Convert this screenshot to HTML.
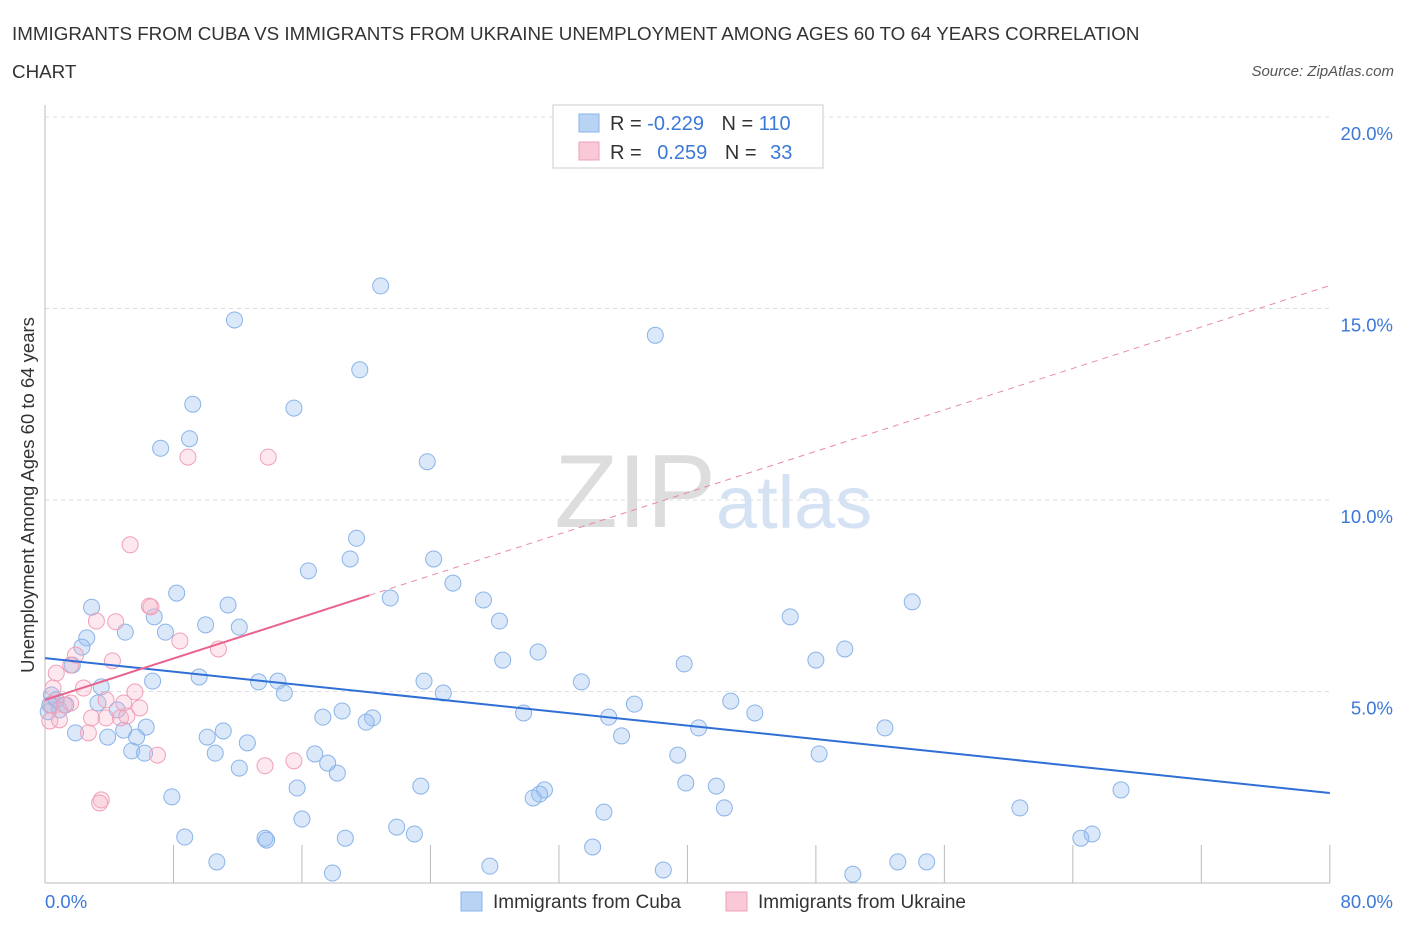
<!DOCTYPE html>
<html><head><meta charset="utf-8"><style>
body{margin:0;background:#fff;font-family:"Liberation Sans",sans-serif;}
svg text{font-family:"Liberation Sans",sans-serif;}
</style></head><body>
<svg id="chart" width="1406" height="930" xmlns="http://www.w3.org/2000/svg">
<text x="12" y="40" font-size="18.8" fill="#333">IMMIGRANTS FROM CUBA VS IMMIGRANTS FROM UKRAINE UNEMPLOYMENT AMONG AGES 60 TO 64 YEARS CORRELATION</text>
<text x="12" y="78" font-size="18.8" fill="#333">CHART</text>
<text x="1394" y="76" font-size="15" fill="#555" font-style="italic" text-anchor="end">Source: ZipAtlas.com</text>
<text x="716" y="527" font-size="104" fill="#ddd" text-anchor="end" font-family="Liberation Serif">ZIP</text>
<text x="716" y="528" font-size="74" fill="#d4e2f4">atlas</text>
<g id="grid"></g>
<g id="axes"></g>
<g id="pts"></g>
<g id="trend"></g>
<text transform="translate(34,495) rotate(-90)" font-size="18.5" fill="#333" text-anchor="middle">Unemployment Among Ages 60 to 64 years</text>
<text x="45" y="908" font-size="18.5" fill="#3b78d8">0.0%</text>
<text x="1393" y="908" font-size="18.5" fill="#3b78d8" text-anchor="end">80.0%</text>
<g>
<rect x="553" y="105" width="270" height="63" fill="#fff" stroke="#ccc"/>
<rect x="579" y="114" width="20" height="18" fill="#b9d3f5" stroke="#8ab4e8"/>
<rect x="579" y="142" width="20" height="18" fill="#f9c9d7" stroke="#f0a0b8"/>
<text x="610" y="130" font-size="20" fill="#333">R = <tspan fill="#3b78d8">-0.229</tspan>  <tspan dx="12">N = </tspan><tspan fill="#3b78d8">110</tspan></text>
<text x="610" y="159" font-size="20" fill="#333">R = <tspan fill="#3b78d8" dx="10">0.259</tspan>  <tspan dx="12">N = </tspan><tspan fill="#3b78d8" dx="8">33</tspan></text>
</g>
<g>
<rect x="461" y="892" width="21" height="19" fill="#b9d3f5" stroke="#8ab4e8"/>
<text x="493" y="908" font-size="19" fill="#333">Immigrants from Cuba</text>
<rect x="726" y="892" width="21" height="19" fill="#f9c9d7" stroke="#f0a0b8"/>
<text x="758" y="908" font-size="19" fill="#333">Immigrants from Ukraine</text>
</g>
</svg>
<script>
const cubaX=[20.9,11.8,38.0,19.6,9.2,15.5,7.2,9.0,23.8,19.4,19.0,24.2,16.4,25.4,8.2,21.5,2.9,11.4,27.3,54.0,6.8,28.3,10.0,12.1,5.0,7.5,2.6,2.3,46.4,49.8,30.7,28.5,1.7,48.0,39.8,9.6,6.7,13.3,14.5,23.6,33.4,3.5,14.9,24.8,0.4,0.7,1.3,0.9,3.3,4.5,36.7,42.7,44.2,29.8,18.5,17.3,35.1,20.4,20.0,6.3,4.9,11.1,40.7,52.3,1.9,3.9,5.7,10.1,12.6,35.9,5.4,6.2,10.6,16.8,39.4,48.2,17.6,12.1,18.2,39.9,41.8,23.4,15.7,31.1,30.8,30.4,7.9,67.0,42.3,34.8,60.7,16.0,21.9,23.0,65.2,64.5,8.7,13.7,13.8,18.7,34.1,10.7,27.7,53.1,54.9,38.5,17.9,50.3,0.3,0.2];
const cubaY=[15.59,14.7,14.3,13.4,12.5,12.4,11.35,11.6,11.0,9.0,8.46,8.46,8.15,7.83,7.57,7.44,7.2,7.26,7.39,7.34,6.95,6.84,6.74,6.68,6.55,6.55,6.4,6.16,6.95,6.11,6.03,5.82,5.69,5.82,5.72,5.38,5.27,5.25,5.27,5.27,5.25,5.12,4.96,4.96,4.91,4.78,4.65,4.52,4.7,4.52,4.67,4.75,4.44,4.44,4.49,4.33,4.33,4.31,4.2,4.07,3.99,3.97,4.05,4.05,3.92,3.81,3.81,3.81,3.66,3.84,3.45,3.39,3.39,3.37,3.34,3.37,3.13,3.0,2.87,2.61,2.53,2.53,2.48,2.43,2.32,2.22,2.25,2.43,1.96,1.85,1.96,1.67,1.46,1.28,1.28,1.17,1.2,1.17,1.12,1.17,0.94,0.55,0.44,0.55,0.55,0.34,0.26,0.23,4.65,4.47];
const ukrX=[8.9,13.9,5.3,6.5,6.6,4.4,3.2,8.4,10.8,1.9,4.2,1.6,0.7,2.4,0.5,5.6,3.8,4.9,5.9,0.4,1.2,1.6,2.9,3.8,4.7,5.1,0.3,0.9,2.7,7.0,13.7,15.5,3.5,3.4];
const ukrY=[11.12,11.12,8.83,7.23,7.21,6.82,6.84,6.32,6.11,5.95,5.8,5.69,5.48,5.09,5.09,4.99,4.78,4.7,4.57,4.65,4.65,4.7,4.31,4.31,4.31,4.36,4.23,4.26,3.92,3.34,3.06,3.19,2.17,2.09];
const cubaTrend=[5.87,2.35];
const ukrTrend=[4.78,15.6];
const yTicks=[5,10,15,20];
const yTickLabels=["5.0%","10.0%","15.0%","20.0%"];
const xTicks=[0,8,16,24,32,40,48,56,64,72,80];
const NS="http://www.w3.org/2000/svg";
const X=v=>45+v*16.06, Y=v=>883-v*38.3;
function mk(tag,attrs,parent){const e=document.createElementNS(NS,tag);for(const k in attrs)e.setAttribute(k,attrs[k]);document.getElementById(parent).appendChild(e);return e;}
yTicks.forEach((t,i)=>{
 const l=mk('line',{x1:45,x2:1330,y1:Y(t),y2:Y(t),stroke:'#ddd','stroke-dasharray':'4,4'},'grid');
 
 
 const tx=mk('text',{x:1393,y:Y(t)+23,'font-size':18.5,fill:'#3b78d8','text-anchor':'end'},'grid');
 tx.textContent=yTickLabels[i];
 
 
});
const ya=mk('line',{x1:45,x2:45,y1:105,y2:883,stroke:'#bbb'},'axes');


const xa=mk('line',{x1:45,x2:1330,y1:883,y2:883,stroke:'#bbb'},'axes');


xTicks.forEach(t=>{
 const l=mk('line',{x1:X(t),x2:X(t),y1:845,y2:883,stroke:'#bbb'},'axes');
 
 
});
cubaX.forEach((v,i)=>{
 const c=mk('circle',{cx:X(v),cy:Y(cubaY[i]),r:8,fill:'rgba(150,190,240,0.35)',stroke:'#8ab4e8','stroke-width':1},'pts');
 
 
});
ukrX.forEach((v,i)=>{
 const c=mk('circle',{cx:X(v),cy:Y(ukrY[i]),r:8,fill:'rgba(245,180,200,0.3)',stroke:'#f0a0b8','stroke-width':1},'pts');
 
 
});
const bt=mk('line',{x1:X(0),y1:Y(cubaTrend[0]),x2:X(80),y2:Y(cubaTrend[1]),stroke:'#2f6fd6','stroke-width':2},'trend');


const uAt=x=>ukrTrend[0]+(ukrTrend[1]-ukrTrend[0])*x/80;
const pd=mk('line',{x1:X(20.2),y1:Y(uAt(20.2)),x2:X(80),y2:Y(uAt(80)),stroke:'#e88aa5','stroke-width':1,'stroke-dasharray':'6,5'},'trend');


const ps=mk('line',{x1:X(0),y1:Y(uAt(0)),x2:X(20.2),y2:Y(uAt(20.2)),stroke:'#e8648c','stroke-width':2},'trend');


</script>
</body></html>
